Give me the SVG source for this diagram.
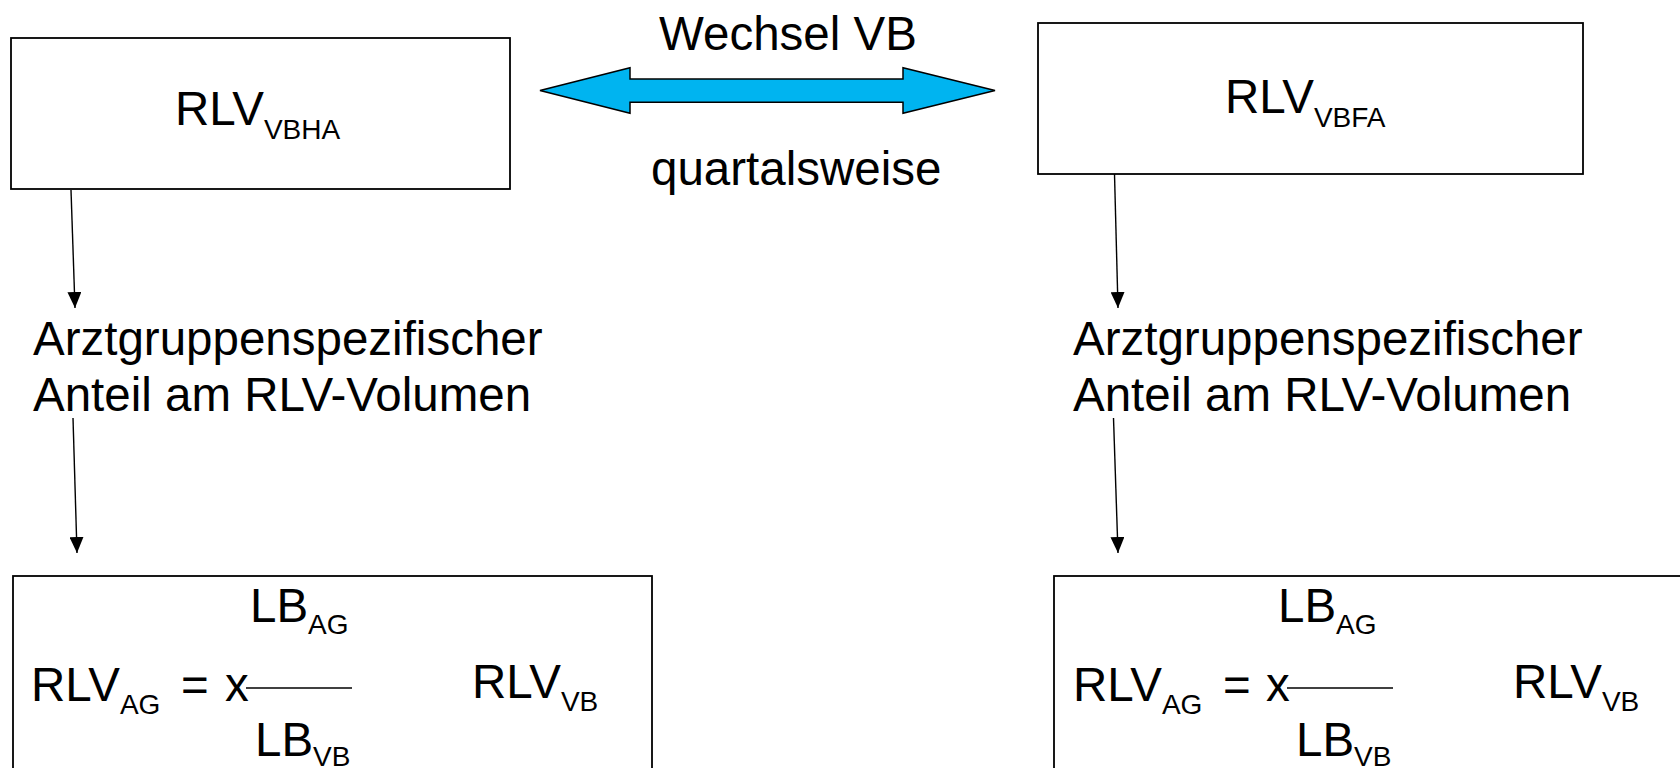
<svg xmlns="http://www.w3.org/2000/svg" width="1680" height="768" viewBox="0 0 1680 768">
<style>
  .box { fill: #ffffff; stroke: #000000; stroke-width: 1.8; }
  .t { font-family: "Liberation Sans", Arial, sans-serif; font-size: 47.5px; fill: #000000; }
  .sub { font-size: 28px; }
  .conn { stroke: #000000; stroke-width: 1.4; fill: none; }
  .frac { stroke: #000000; stroke-width: 1.5; }
</style>
<defs>
  <marker id="ah" markerUnits="userSpaceOnUse" markerWidth="16" markerHeight="14" refX="16" refY="7" orient="auto">
    <path d="M0,0 L16,7 L0,14 z" fill="#000000"/>
  </marker>
</defs>
<rect width="1680" height="768" fill="#ffffff"/>

<g id="box-vbha">
  <rect class="box" x="11" y="38" width="499" height="151"/>
  <text class="t" x="175" y="125">RLV<tspan class="sub" dy="14">VBHA</tspan></text>
</g>

<g id="box-vbfa">
  <rect class="box" x="1038" y="23" width="545" height="151"/>
  <text class="t" x="1225" y="113">RLV<tspan class="sub" dy="14">VBFA</tspan></text>
</g>

<g id="wechsel">
  <polygon points="540,90.5 630,67.7 630,79 903,79 903,67.7 995,90.5 903,113.3 903,102.3 630,102.3 630,113.3" fill="#00B4F0" stroke="#000000" stroke-width="1.5" stroke-linejoin="miter"/>
  <text class="t" x="659" y="50">Wechsel VB</text>
  <text class="t" x="651" y="185">quartalsweise</text>
</g>

<g id="anteil-left">
  <text class="t" x="33" y="355">Arztgruppenspezifischer</text>
  <text class="t" x="33" y="411">Anteil am RLV-Volumen</text>
</g>

<g id="anteil-right">
  <text class="t" x="1073" y="355">Arztgruppenspezifischer</text>
  <text class="t" x="1073" y="411">Anteil am RLV-Volumen</text>
</g>

<g id="formula-left">
  <rect class="box" x="13" y="576" width="639" height="240"/>
  <text class="t" x="250" y="622">LB<tspan class="sub" dy="12">AG</tspan></text>
  <text class="t" x="31" y="701">RLV<tspan class="sub" dy="13">AG</tspan></text>
  <text class="t" x="181" y="701">=</text>
  <text class="t" x="225" y="701">x</text>
  <line class="frac" x1="246" y1="688" x2="352" y2="688"/>
  <text class="t" x="255" y="756">LB<tspan class="sub" dy="10">VB</tspan></text>
  <text class="t" x="472" y="698">RLV<tspan class="sub" dy="13">VB</tspan></text>
</g>

<g id="formula-right">
  <rect class="box" x="1054" y="576" width="639" height="240"/>
  <text class="t" x="1278" y="622">LB<tspan class="sub" dy="12">AG</tspan></text>
  <text class="t" x="1073" y="701">RLV<tspan class="sub" dy="13">AG</tspan></text>
  <text class="t" x="1223" y="701">=</text>
  <text class="t" x="1266" y="701">x</text>
  <line class="frac" x1="1287" y1="688" x2="1393" y2="688"/>
  <text class="t" x="1296" y="756">LB<tspan class="sub" dy="10">VB</tspan></text>
  <text class="t" x="1513" y="698">RLV<tspan class="sub" dy="13">VB</tspan></text>
</g>

<g id="connectors">
  <line class="conn" x1="71" y1="190" x2="75" y2="308" marker-end="url(#ah)"/>
  <line class="conn" x1="73" y1="418" x2="77" y2="553" marker-end="url(#ah)"/>
  <line class="conn" x1="1114.5" y1="174" x2="1118" y2="308" marker-end="url(#ah)"/>
  <line class="conn" x1="1113.5" y1="418" x2="1118" y2="553" marker-end="url(#ah)"/>
</g>
</svg>
